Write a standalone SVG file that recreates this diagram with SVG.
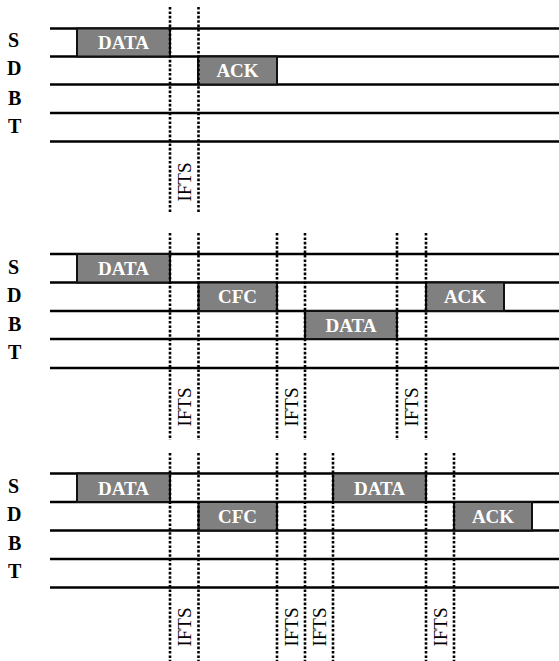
<svg xmlns="http://www.w3.org/2000/svg" width="559" height="661" viewBox="0 0 559 661">
<style>
.ln{stroke:#000;stroke-width:2.6;fill:none}
.dot{stroke:#000;stroke-width:2.6;stroke-dasharray:2.6 1.8;fill:none}
.box{fill:#808080;stroke:#111;stroke-width:2}
.bt{font-family:"Liberation Serif","Times New Roman",serif;font-weight:bold;font-size:19px;fill:#fff;text-anchor:middle}
.lab{font-family:"Liberation Serif","Times New Roman",serif;font-weight:bold;font-size:20px;fill:#000}
.ifts{font-family:"Liberation Serif","Times New Roman",serif;font-size:19px;fill:#000;text-anchor:middle}
</style>
<rect width="559" height="661" fill="#fff"/>

<!-- Panel 1 -->
<g id="panel1">
  <g id="p1-labels">
    <text class="lab" x="8" y="47">S</text>
    <text class="lab" x="7" y="75">D</text>
    <text class="lab" x="8" y="105">B</text>
    <text class="lab" x="8" y="133">T</text>
  </g>
  <g id="p1-lines">
    <line class="ln" x1="50" y1="28.5" x2="559" y2="28.5"/>
    <line class="ln" x1="50" y1="56.5" x2="559" y2="56.5"/>
    <line class="ln" x1="50" y1="84.5" x2="559" y2="84.5"/>
    <line class="ln" x1="50" y1="113" x2="559" y2="113"/>
    <line class="ln" x1="50" y1="141.5" x2="559" y2="141.5"/>
  </g>
  <g id="p1-data"><rect class="box" x="77" y="28.5" width="93" height="28"/><text class="bt" x="123.5" y="49">DATA</text></g>
  <g id="p1-ack"><rect class="box" x="198" y="56.5" width="79" height="28"/><text class="bt" x="237.5" y="77">ACK</text></g>
  <g id="p1-ifts">
    <line class="dot" x1="170" y1="7" x2="170" y2="212"/>
    <line class="dot" x1="198.5" y1="7" x2="198.5" y2="212"/>
    <text class="ifts" transform="translate(190.5,182) rotate(-90)">IFTS</text>
  </g>
</g>

<!-- Panel 2 -->
<g id="panel2">
  <g id="p2-labels">
    <text class="lab" x="8" y="274">S</text>
    <text class="lab" x="7" y="302">D</text>
    <text class="lab" x="8" y="331">B</text>
    <text class="lab" x="8" y="359">T</text>
  </g>
  <g id="p2-lines">
    <line class="ln" x1="50" y1="254" x2="559" y2="254"/>
    <line class="ln" x1="50" y1="282.5" x2="559" y2="282.5"/>
    <line class="ln" x1="50" y1="311" x2="559" y2="311"/>
    <line class="ln" x1="50" y1="339" x2="559" y2="339"/>
    <line class="ln" x1="50" y1="368" x2="559" y2="368"/>
  </g>
  <g id="p2-data"><rect class="box" x="77" y="254" width="93" height="28.5"/><text class="bt" x="123.5" y="275">DATA</text></g>
  <g id="p2-cfc"><rect class="box" x="198.5" y="282.5" width="78.5" height="28.5"/><text class="bt" x="237.5" y="303">CFC</text></g>
  <g id="p2-data2"><rect class="box" x="305" y="311" width="92" height="28"/><text class="bt" x="351" y="332">DATA</text></g>
  <g id="p2-ack"><rect class="box" x="426" y="282.5" width="78" height="28.5"/><text class="bt" x="465" y="303">ACK</text></g>
  <g id="p2-ifts">
    <line class="dot" x1="170" y1="233" x2="170" y2="440"/>
    <line class="dot" x1="198.5" y1="233" x2="198.5" y2="440"/>
    <line class="dot" x1="277" y1="233" x2="277" y2="440"/>
    <line class="dot" x1="305" y1="233" x2="305" y2="440"/>
    <line class="dot" x1="397" y1="233" x2="397" y2="440"/>
    <line class="dot" x1="426" y1="233" x2="426" y2="440"/>
    <text class="ifts" transform="translate(190.5,407) rotate(-90)">IFTS</text>
    <text class="ifts" transform="translate(297.5,407) rotate(-90)">IFTS</text>
    <text class="ifts" transform="translate(418,407) rotate(-90)">IFTS</text>
  </g>
</g>

<!-- Panel 3 -->
<g id="panel3">
  <g id="p3-labels">
    <text class="lab" x="8" y="493">S</text>
    <text class="lab" x="7" y="521">D</text>
    <text class="lab" x="8" y="550">B</text>
    <text class="lab" x="8" y="578">T</text>
  </g>
  <g id="p3-lines">
    <line class="ln" x1="50" y1="473.5" x2="559" y2="473.5"/>
    <line class="ln" x1="50" y1="502" x2="559" y2="502"/>
    <line class="ln" x1="50" y1="530.5" x2="559" y2="530.5"/>
    <line class="ln" x1="50" y1="559" x2="559" y2="559"/>
    <line class="ln" x1="50" y1="587.5" x2="559" y2="587.5"/>
  </g>
  <g id="p3-data"><rect class="box" x="77" y="473.5" width="93" height="28.5"/><text class="bt" x="123.5" y="495">DATA</text></g>
  <g id="p3-cfc"><rect class="box" x="198.5" y="502" width="78.5" height="28.5"/><text class="bt" x="237.5" y="523">CFC</text></g>
  <g id="p3-data2"><rect class="box" x="333" y="473.5" width="93" height="28.5"/><text class="bt" x="379.5" y="495">DATA</text></g>
  <g id="p3-ack"><rect class="box" x="454" y="502" width="78" height="28.5"/><text class="bt" x="493" y="523">ACK</text></g>
  <g id="p3-ifts">
    <line class="dot" x1="170" y1="453" x2="170" y2="661"/>
    <line class="dot" x1="198.5" y1="453" x2="198.5" y2="661"/>
    <line class="dot" x1="277" y1="453" x2="277" y2="661"/>
    <line class="dot" x1="305" y1="453" x2="305" y2="661"/>
    <line class="dot" x1="333" y1="453" x2="333" y2="661"/>
    <line class="dot" x1="426" y1="453" x2="426" y2="661"/>
    <line class="dot" x1="454" y1="453" x2="454" y2="661"/>
    <text class="ifts" transform="translate(190.5,627) rotate(-90)">IFTS</text>
    <text class="ifts" transform="translate(297.5,627) rotate(-90)">IFTS</text>
    <text class="ifts" transform="translate(325.5,627) rotate(-90)">IFTS</text>
    <text class="ifts" transform="translate(446.5,627) rotate(-90)">IFTS</text>
  </g>
</g>
</svg>
